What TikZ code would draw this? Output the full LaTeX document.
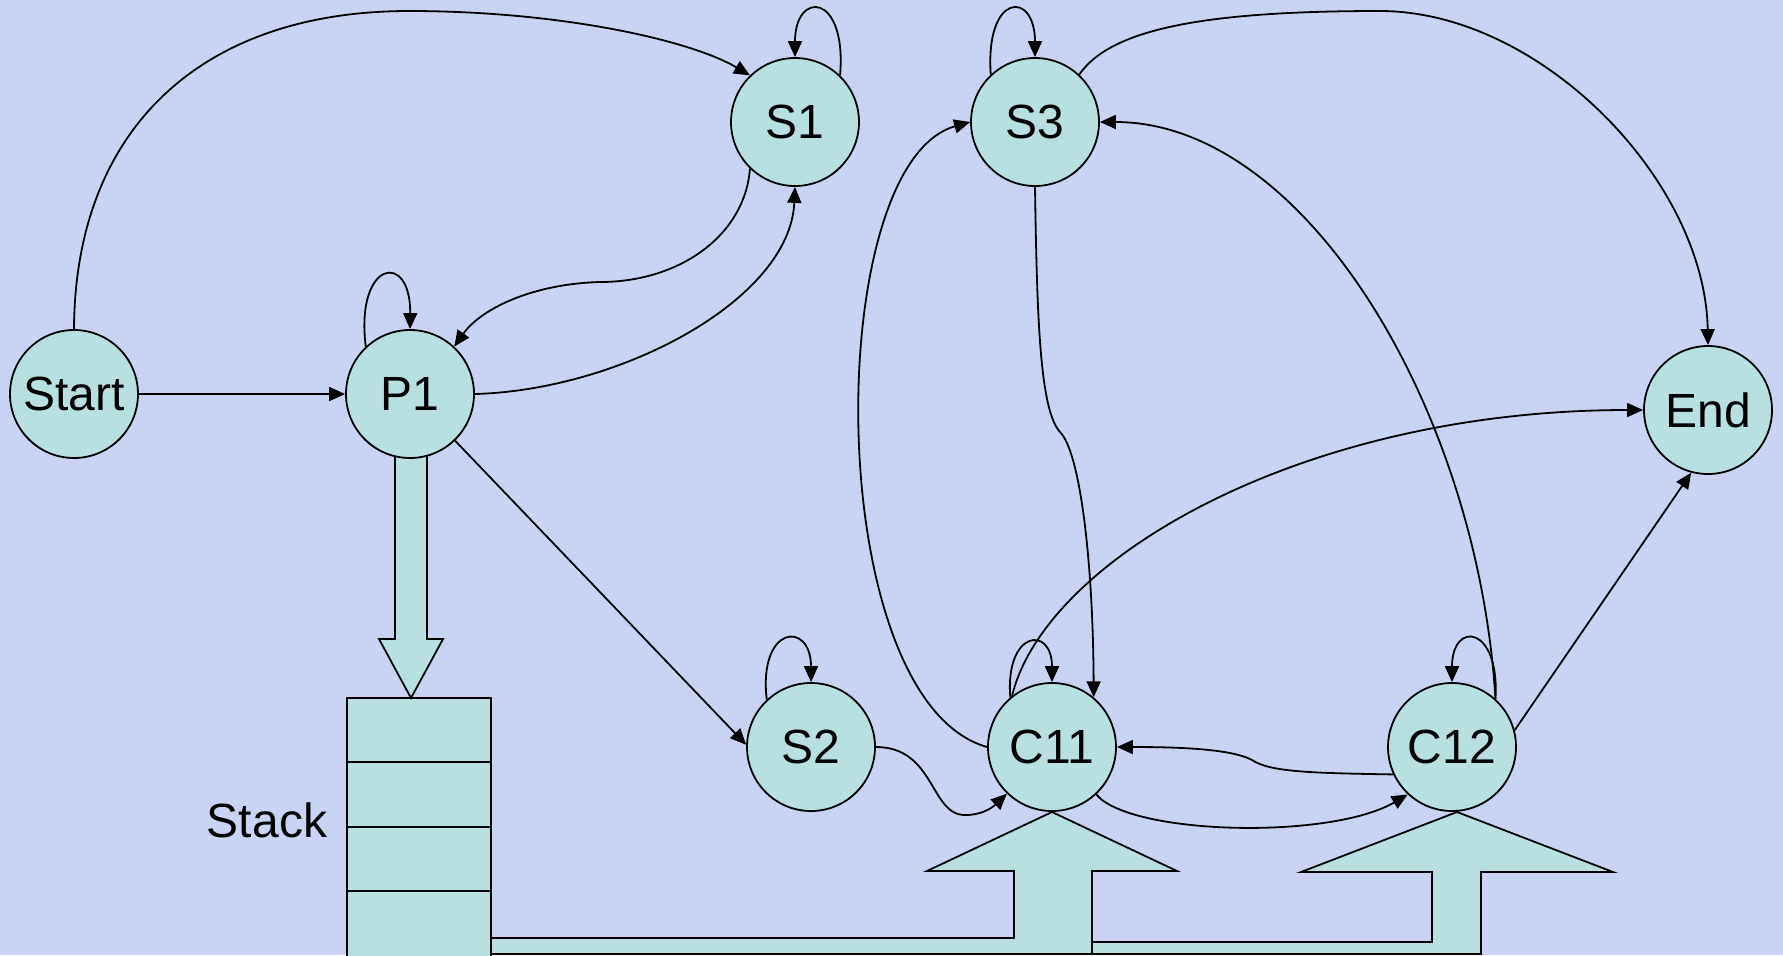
\documentclass[tikz,border=0pt]{standalone}
\usepackage{fontspec}
\setmainfont{Liberation Sans}
\usetikzlibrary{arrows.meta}
\definecolor{bgcol}{RGB}{200,212,242}
\definecolor{nodefill}{RGB}{184,224,224}
\begin{document}
\begin{tikzpicture}[x=0.5pt,y=-0.5pt,
  stnode/.style={circle,draw=black,line width=0.9pt,fill=nodefill,minimum size=64pt,inner sep=0pt,font=\fontsize{24}{28}\selectfont},
  conn/.style={line width=0.9pt,-{Triangle[length=8pt,width=7pt]}},
  blk/.style={draw=black,line width=0.9pt,fill=nodefill,line join=miter}]
\useasboundingbox (0,0) rectangle (1783,955);
\fill[bgcol] (0,0) rectangle (1783,955);
% bent-up block arrows from the stack
\draw[blk] (491,942) -- (1432,942) -- (1432,872) -- (1301,872) -- (1457,812) -- (1613,872) -- (1481,872) -- (1481,954) -- (491,954) -- cycle;
\draw[blk] (491,938) -- (1014,938) -- (1014,871) -- (927,871) -- (1052,812) -- (1177,871) -- (1092,871) -- (1092,954) -- (491,954) -- cycle;
% stack
\draw[blk] (347,698) rectangle (491,958);
\draw[line width=0.9pt] (347,762) -- (491,762) (347,827) -- (491,827) (347,891) -- (491,891);
\node[font=\fontsize{24}{28}\selectfont] (stacklabel) at (267,820) {Stack};
% block arrow P1 -> stack
\draw[blk] (395,450) -- (427,450) -- (427,639) -- (443,639) -- (411,698) -- (379,639) -- (395,639) -- cycle;
% states
\node[stnode] (start) at (74,394) {Start};
\node[stnode] (p1) at (410,394) {P1};
\node[stnode] (s1) at (795,122) {S1};
\node[stnode] (s3) at (1035,122) {S3};
\node[stnode] (s2) at (811,747) {S2};
\node[stnode] (c11) at (1052,747) {C11};
\node[stnode] (c12) at (1452,747) {C12};
\node[stnode] (end) at (1708,410) {End};
% connectors
\draw[conn] (start.north) .. controls (75,130) and (200,11) .. (409,11) .. controls (560,11) and (690,40) .. (s1.134);
\draw[conn] (start) -- (p1);
\draw[conn] (p1.133) .. controls (355,260) and (411,250) .. (p1.north);
\draw[conn] (s1.226) .. controls (745,235) and (680,282) .. (600,282) .. controls (530,284) and (480,310) .. (p1.47);
\draw[conn] (p1.east) .. controls (620,390) and (790,300) .. (s1.south);
\draw[conn] (s1.46) .. controls (847,-8) and (795,-10) .. (s1.north);
\draw[conn] (p1.-46) -- (s2.178);
\draw[conn] (s2.133) .. controls (758,625) and (811,620) .. (s2.north);
\draw[conn] (s2.east) .. controls (935,747) and (930,815) .. (965,815) .. controls (985,815) and (995,805) .. (c11.226);
\draw[conn] (c11.130) .. controls (1005,630) and (1052,625) .. (c11.north);
\draw[conn] (c11.west) .. controls (821,700) and (821,164) .. (s3.west);
\draw[conn] (s3.south) .. controls (1037,320) and (1040,410) .. (1060,432) .. controls (1080,452) and (1093,560) .. (c11.50);
\draw[conn] (c11.128) .. controls (1045,560) and (1300,410) .. (end.west);
\draw[conn] (c11.-47) .. controls (1130,835) and (1330,840) .. (c12.227);
\draw[conn] (c12.205) .. controls (1310,773) and (1270,772) .. (1252,760) .. controls (1230,748) and (1170,747) .. (c11.east);
\draw[conn] (c12.48) .. controls (1500,625) and (1452,620) .. (c12.north);
\draw[conn] (c12.48) .. controls (1478,410) and (1305,122) .. (s3.east);
\draw[conn] (c12.15) -- (end.255);
\draw[conn] (s3.47) .. controls (1110,30) and (1200,11) .. (1380,11) .. controls (1540,11) and (1705,180) .. (end.north);
\draw[conn] (s3.133) .. controls (985,-8) and (1035,-10) .. (s3.north);
\end{tikzpicture}
\end{document}
